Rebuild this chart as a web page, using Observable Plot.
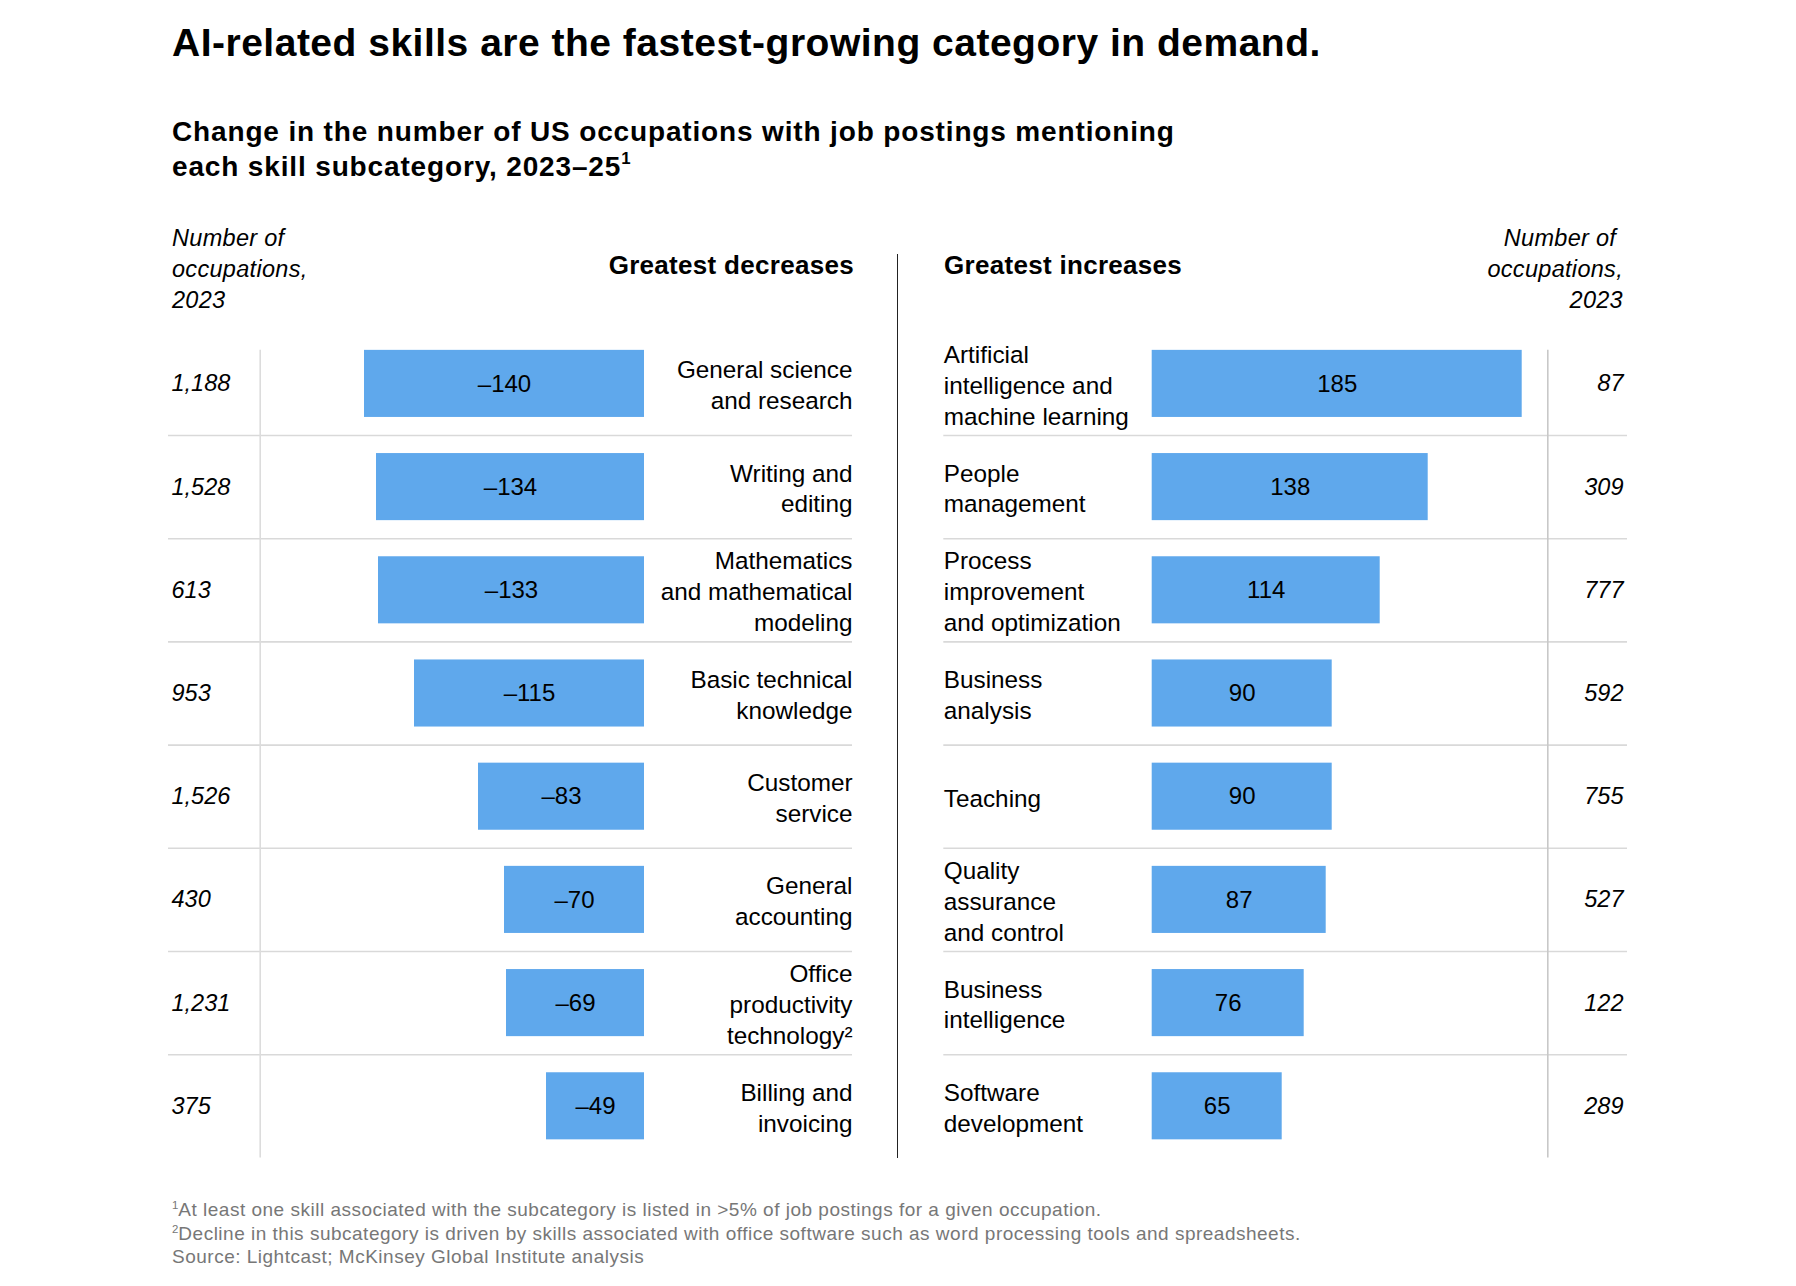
<!DOCTYPE html>
<html>
<head>
<meta charset="utf-8">
<script src="https://cdn.jsdelivr.net/npm/d3@7"></script>
<script src="https://cdn.jsdelivr.net/npm/@observablehq/plot@0.6"></script>
<style>
  html, body { margin: 0; padding: 0; background: #fff; }
  body { width: 1796px; height: 1286px; position: relative; font-family: "Liberation Sans", Arial, sans-serif; color: #000; overflow: hidden; }
  .abs { position: absolute; white-space: nowrap; }
  #title { left: 172px; top: 21px; font-size: 39px; line-height: 44px; font-weight: 700; letter-spacing: 0.5px; }
  #subtitle { left: 172px; top: 114px; font-size: 28px; line-height: 35px; font-weight: 700; letter-spacing: 0.85px; }
  #subtitle sup { font-size: 0.6em; line-height: 0; position: relative; top: -0.1em; vertical-align: super; letter-spacing: 0; }
  .occ { top: 223px; font-size: 23.5px; line-height: 31px; font-style: italic; letter-spacing: 0.3px; }
  #occL { left: 172px; }
  #occR { right: 173px; text-align: right; }
  .side { top: 250px; font-size: 26px; line-height: 30px; font-weight: 700; letter-spacing: 0.3px; }
  #decL { right: 942px; text-align: right; }
  #incR { left: 944px; }
  #divider { left: 897px; top: 254px; width: 1.2px; height: 904px; background: #222; }
  #notes { left: 172px; top: 1198px; font-size: 19px; line-height: 23.5px; color: #777; letter-spacing: 0.5px; }
  #notes sup { font-size: 0.6em; line-height: 0; position: relative; top: 0.05em; vertical-align: super; letter-spacing: 0; }
  #left { left: 0; top: 300px; }
  #right { left: 900px; top: 300px; }
</style>
</head>
<body>
<div id="title" class="abs">AI-related skills are the fastest-growing category in demand.</div>
<div id="subtitle" class="abs">Change in the number of US occupations with job postings mentioning<br>each skill subcategory, 2023–25<sup>1</sup></div>
<div id="occL" class="abs occ">Number of<br>occupations,<br>2023</div>
<div id="occR" class="abs occ">Number of&nbsp;<br>occupations,<br>2023</div>
<div id="decL" class="abs side">Greatest decreases</div>
<div id="incR" class="abs side">Greatest increases</div>
<div id="divider" class="abs"></div>
<div id="left" class="abs"></div>
<div id="right" class="abs"></div>
<div id="notes" class="abs"><sup>1</sup>At least one skill associated with the subcategory is listed in &gt;5% of job postings for a given occupation.<br><sup>2</sup>Decline in this subcategory is driven by skills associated with office software such as word processing tools and spreadsheets.<br>Source: Lightcast; McKinsey Global Institute analysis</div>

<script>
// ---------- data ----------
const decreaseSkills = [
  "General science\nand research",
  "Writing and\nediting",
  "Mathematics\nand mathematical\nmodeling",
  "Basic technical\nknowledge",
  "Customer\nservice",
  "General\naccounting",
  "Office\nproductivity\ntechnology²",
  "Billing and\ninvoicing"
];
const decreaseChange = [-140, -134, -133, -115, -83, -70, -69, -49];
const decreaseOcc2023 = [1188, 1528, 613, 953, 1526, 430, 1231, 375];

const increaseSkills = [
  "Artificial\nintelligence and\nmachine learning",
  "People\nmanagement",
  "Process\nimprovement\nand optimization",
  "Business\nanalysis",
  "Teaching",
  "Quality\nassurance\nand control",
  "Business\nintelligence",
  "Software\ndevelopment"
];
const increaseChange = [185, 138, 114, 90, 90, 87, 76, 65];
const increaseOcc2023 = [87, 309, 777, 592, 755, 527, 122, 289];

// ---------- build tables ----------
const leftData = decreaseSkills.map((s, i) => ({i, skill: s, value: decreaseChange[i], occ: decreaseOcc2023[i]}));
const rightData = increaseSkills.map((s, i) => ({i, skill: s, value: increaseChange[i], occ: increaseOcc2023[i]}));

const BAR = "#5fa8ec";
const fmtVal = v => (v < 0 ? "\u2013" + Math.abs(v) : String(v));
const fmtOcc = d3.format(",");
const half = 0.325;              // bar half-thickness in row units
const seps = d3.range(1, 8).map(k => k - 0.5);
const rowsExtent = [-0.5, 7.5];

function panel({data, width, marginLeft, marginRight, xDomain, vline, vlineColor, side}) {
  const left = side === "left";
  return Plot.plot({
    width, height: 870,
    marginTop: 31.8, marginBottom: 12.6, marginLeft, marginRight,
    x: {domain: xDomain, axis: null},
    y: {domain: rowsExtent, reverse: true, axis: null},
    style: {fontFamily: "'Liberation Sans', Arial, sans-serif", fontSize: "24px", background: "transparent", overflow: "visible", color: "#000"},
    marks: [
      Plot.ruleY(seps, {stroke: "#d9d9d9", strokeWidth: 1.6}),
      Plot.ruleX([vline], {y1: -half, y2: 7.5, stroke: vlineColor, strokeWidth: 1.6}),
      Plot.rect(data, {x1: 0, x2: "value", y1: d => d.i - half, y2: d => d.i + half, fill: BAR}),
      Plot.text(data, {x: d => d.value / 2, y: "i", text: d => fmtVal(d.value), fill: "#000", fontSize: 24}),
      Plot.text(data, {
        y: "i", text: "skill", frameAnchor: left ? "right" : "left",
        textAnchor: left ? "end" : "start", lineHeight: 1.27, fill: "#000", fontSize: 24.3,
        style: "letter-spacing:0.25px"
      }),
      Plot.text(data, {
        y: "i", text: d => fmtOcc(d.occ), frameAnchor: left ? "left" : "right",
        textAnchor: left ? "start" : "end", dx: left ? 3 : -4, fontStyle: "italic", fill: "#000", fontSize: 23.5
      })
    ]
  });
}

document.getElementById("left").append(panel({
  data: leftData, width: 900, marginLeft: 168, marginRight: 48,
  xDomain: [-238, 104], vline: -192.15, vlineColor: "#dcdcdc", side: "left"
}));
document.getElementById("right").append(panel({
  data: rightData, width: 896, marginLeft: 43.3, marginRight: 169,
  xDomain: [-104.2, 237.65], vline: 197.8, vlineColor: "#c8c8c8", side: "right"
}));
</script>
</body>
</html>
